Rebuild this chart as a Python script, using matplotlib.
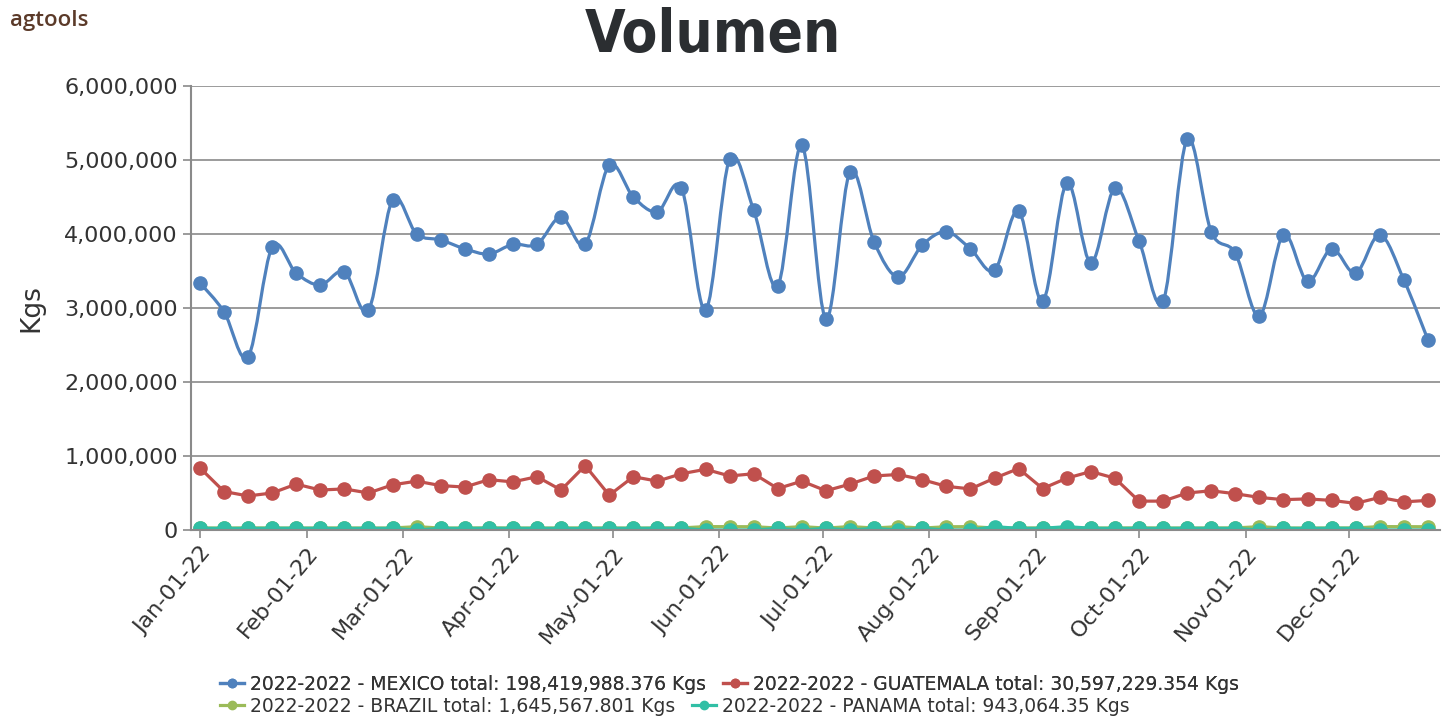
import datetime as dt
import matplotlib
matplotlib.use("Agg")
import matplotlib.pyplot as plt
import matplotlib.dates as mdates
from matplotlib.path import Path
from matplotlib.patches import PathPatch
from matplotlib.lines import Line2D
from matplotlib.ticker import FuncFormatter, MultipleLocator
import numpy as np

# weekly dates, Jan-01-22 ... Dec-24-22
start = dt.date(2022, 1, 1)
weeks = [start + dt.timedelta(days=7 * i) for i in range(52)]

mexico = [3340000, 2950000, 2340000, 3820000, 3470000, 3310000, 3490000, 2970000,
          4460000, 4000000, 3920000, 3800000, 3730000, 3860000, 3860000, 4230000,
          3860000, 4930000, 4500000, 4300000, 4620000, 2970000, 5010000, 4320000,
          3300000, 5200000, 2850000, 4840000, 3890000, 3420000, 3850000, 4030000,
          3800000, 3510000, 4310000, 3090000, 4690000, 3610000, 4620000, 3910000,
          3090000, 5280000, 4030000, 3740000, 2890000, 3990000, 3360000, 3800000,
          3470000, 3990000, 3380000, 2570000]

guatemala = [840000, 520000, 460000, 500000, 620000, 540000, 555000, 500000,
             610000, 660000, 600000, 580000, 680000, 650000, 720000, 540000,
             870000, 470000, 720000, 660000, 760000, 820000, 730000, 760000,
             560000, 660000, 530000, 620000, 730000, 750000, 680000, 590000,
             555000, 700000, 830000, 560000, 700000, 790000, 700000, 390000,
             390000, 500000, 530000, 490000, 440000, 410000, 420000, 400000,
             360000, 440000, 380000, 400000]

brazil = [27000, 26000, 28000, 27000, 26000, 27000, 28000, 26000,
          27000, 45000, 26000, 27000, 28000, 27000, 26000, 27000,
          28000, 27000, 26000, 27000, 28000, 46000, 45000, 44000,
          27000, 45000, 26000, 46000, 27000, 45000, 26000, 44000,
          45000, 27000, 26000, 28000, 27000, 26000, 27000, 28000,
          27000, 26000, 27000, 28000, 45000, 27000, 26000, 27000,
          28000, 46000, 45000, 44000]

panama = [23000, 22000, 22000, 23000, 24000, 22000, 21000, 23000,
          22000, 0, 23000, 22000, 24000, 22000, 23000, 22000,
          21000, 23000, 22000, 24000, 23000, 0, 0, 0,
          22000, 0, 23000, 0, 22000, 0, 23000, 0,
          0, 45000, 22000, 23000, 45000, 24000, 22000, 23000,
          22000, 24000, 23000, 22000, 0, 23000, 22000, 24000,
          22000, 0, 0, 0]

labels = ["2022-2022 - MEXICO total: 198,419,988.376 Kgs",
          "2022-2022 - GUATEMALA total: 30,597,229.354 Kgs",
          "2022-2022 - BRAZIL total: 1,645,567.801 Kgs",
          "2022-2022 - PANAMA total: 943,064.35 Kgs"]
colors = ["#4F81BD", "#C0504D", "#9BBB59", "#31BFA5"]

grey = "#8a8a8a"
txt = "#333333"

fig = plt.figure(figsize=(14.51, 7.2), dpi=100)
ax = fig.add_axes([0.1316, 0.2639, 0.9924 - 0.1316, 0.8806 - 0.2639])

x = mdates.date2num(weeks)


def spline_path(xs, ys):
    # catmull-rom style bezier through the points (like a "spline" chart)
    pts = np.column_stack([xs, ys]).astype(float)
    n = len(pts)
    verts = [pts[0]]
    codes = [Path.MOVETO]
    for i in range(n - 1):
        p0 = pts[i - 1] if i > 0 else pts[0]
        p1 = pts[i]
        p2 = pts[i + 1]
        p3 = pts[i + 2] if i + 2 < n else pts[n - 1]
        c1 = p1 + (p2 - p0) / 6.0
        c2 = p2 - (p3 - p1) / 6.0
        verts += [c1, c2, p2]
        codes += [Path.CURVE4] * 3
    return Path(verts, codes)


lw = 2.3
ms = 9.5
ax.add_patch(PathPatch(spline_path(x, mexico), fill=False, edgecolor=colors[0],
                       lw=lw, zorder=3))
ax.plot(x, mexico, "o", color=colors[0], ms=ms, zorder=3)
for vals, c in zip([guatemala, brazil, panama], colors[1:]):
    ax.plot(x, vals, "-o", color=c, lw=lw, ms=ms, zorder=3)

ax.set_ylim(0, 6000000)
ax.set_xlim(x[0] - 2.6, x[-1] + 3.5)
ax.yaxis.set_major_locator(MultipleLocator(1000000))
ax.yaxis.set_major_formatter(FuncFormatter(lambda v, p: f"{int(v):,}"))
ax.xaxis.set_major_locator(mdates.MonthLocator())
ax.xaxis.set_major_formatter(mdates.DateFormatter("%b-%d-%y"))

ax.grid(axis="y", color=grey, lw=1.2)
ax.set_axisbelow(True)
for s in ["top", "right"]:
    ax.spines[s].set_visible(False)
for s in ["left", "bottom"]:
    ax.spines[s].set_color(grey)
    ax.spines[s].set_linewidth(1.5)
    ax.spines[s].set_zorder(4)
ax.tick_params(axis="both", direction="out", length=6, width=1.2, color=grey,
               labelcolor=txt, labelsize=16)
plt.setp(ax.get_xticklabels(), rotation=50, ha="right", rotation_mode="anchor")
ax.set_ylabel("Kgs", fontsize=19, color=txt, labelpad=14)

fig.text(0.491, 0.951, "Volumen", ha="center", va="center", fontsize=42,
         fontweight="heavy", fontstretch="condensed", color="#2b2e31")
fig.text(0.007, 0.972, "agtools", ha="left", va="center", fontsize=16,
         fontweight="semibold", family="Open Sans", color="#5B3A29")

handles = [Line2D([], [], color=c, marker="o", lw=lw, ms=6) for c in colors]
leg_kw = dict(ncol=2, frameon=False, fontsize=13.5, handlelength=1.3,
              handletextpad=0.3, columnspacing=0.9, borderpad=0,
              labelcolor=txt, loc="center left")
leg1 = fig.legend(handles[:2], labels[:2], bbox_to_anchor=(0.145, 0.05), **leg_kw)
fig.add_artist(leg1)
fig.legend(handles[2:], labels[2:], bbox_to_anchor=(0.145, 0.0194), **leg_kw)

fig.savefig("out.png", dpi=100)
